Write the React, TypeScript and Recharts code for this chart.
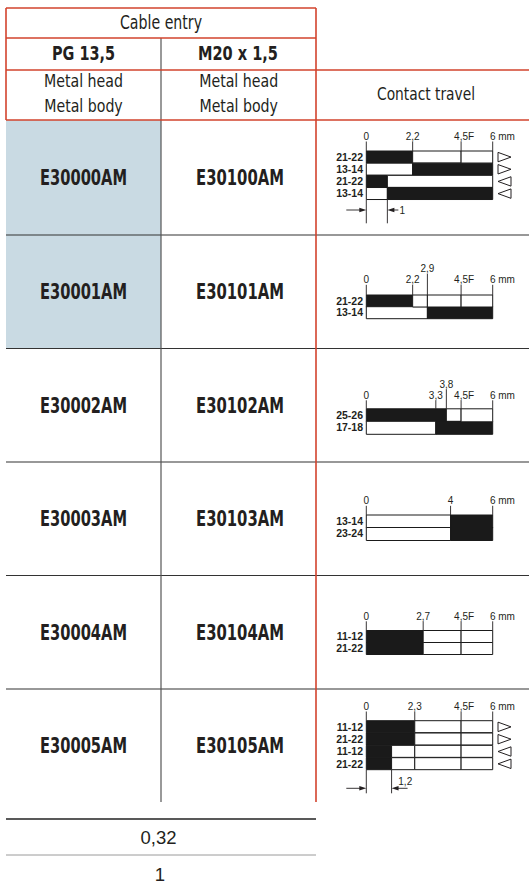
import React from "react";
import { BarChart, Bar, XAxis, YAxis, Cell } from "recharts";

// ---------- table data ----------
const pgCodes = ["E30000AM", "E30001AM", "E30002AM", "E30003AM", "E30004AM", "E30005AM"];
const m20Codes = ["E30100AM", "E30101AM", "E30102AM", "E30103AM", "E30104AM", "E30105AM"];
const highlightedRows = [true, true, false, false, false, false];
const footerValues = ["0,32", "1"];

// ---------- contact travel diagrams (segments: [end mm, closed 1 / open 0]) ----------
const d1Contacts = ["21-22", "13-14", "21-22", "13-14"];
const d1Segments = [
  [[2.2, 1], [4.5, 0], [6, 0]],
  [[2.2, 0], [6, 1]],
  [[1, 1], [6, 0]],
  [[1, 0], [6, 1]],
];
const d1Arrows = ["r", "r", "l", "l"];
const d1Ticks = [0, 2.2, 4.5, 6];
const d1TickLabels = ["0", "2,2", "4,5F", "6 mm"];
const d1TickTiers = [0, 0, 0, 0];
const d1Dimension = [0, 1];
const d1DimensionLabel = "1";

const d2Contacts = ["21-22", "13-14"];
const d2Segments = [
  [[2.2, 1], [2.9, 0], [4.5, 0], [6, 0]],
  [[2.9, 0], [6, 1]],
];
const d2Arrows = ["", ""];
const d2Ticks = [0, 2.2, 2.9, 4.5, 6];
const d2TickLabels = ["0", "2,2", "2,9", "4,5F", "6 mm"];
const d2TickTiers = [0, 0, 1, 0, 0];

const d3Contacts = ["25-26", "17-18"];
const d3Segments = [
  [[3.8, 1], [4.5, 0], [6, 0]],
  [[3.3, 0], [6, 1]],
];
const d3Arrows = ["", ""];
const d3Ticks = [0, 3.3, 3.8, 4.5, 6];
const d3TickLabels = ["0", "3,3", "3,8", "4,5F", "6 mm"];
const d3TickTiers = [0, 0, 1, 0, 0];

const d4Contacts = ["13-14", "23-24"];
const d4Segments = [
  [[4, 0], [6, 1]],
  [[4, 0], [6, 1]],
];
const d4Arrows = ["", ""];
const d4Ticks = [0, 4, 6];
const d4TickLabels = ["0", "4", "6 mm"];
const d4TickTiers = [0, 0, 0];

const d5Contacts = ["11-12", "21-22"];
const d5Segments = [
  [[2.7, 1], [4.5, 0], [6, 0]],
  [[2.7, 1], [4.5, 0], [6, 0]],
];
const d5Arrows = ["", ""];
const d5Ticks = [0, 2.7, 4.5, 6];
const d5TickLabels = ["0", "2,7", "4,5F", "6 mm"];
const d5TickTiers = [0, 0, 0, 0];

const d6Contacts = ["11-12", "21-22", "11-12", "21-22"];
const d6Segments = [
  [[2.3, 1], [4.5, 0], [6, 0]],
  [[2.3, 1], [4.5, 0], [6, 0]],
  [[1.2, 1], [2.3, 0], [4.5, 0], [6, 0]],
  [[1.2, 1], [2.3, 0], [4.5, 0], [6, 0]],
];
const d6Arrows = ["r", "r", "l", "l"];
const d6Ticks = [0, 2.3, 4.5, 6];
const d6TickLabels = ["0", "2,3", "4,5F", "6 mm"];
const d6TickTiers = [0, 0, 0, 0];
const d6Dimension = [0, 1.2];
const d6DimensionLabel = "1,2";

// ---------- layout (page coordinates) ----------
const RED = "#d2432d";
const INK = "#231f20";
const BLUE = "#c9dae3";
const NARROW = "'Liberation Sans Narrow', 'DejaVu Sans Condensed', 'Arial Narrow', sans-serif";
const SANS = "'Liberation Sans', Arial, sans-serif";
const rowEdges = [120, 235, 348.5, 462, 575.5, 689, 802];
const CHART_LEFT = 316;
const CHART_W = 213;
const PLOT_LEFT_L = 50.3; // local
const PLOT_RIGHT_L = 176.7; // local

type Layout = {
  plotTop: number;
  plotBottom: number;
  labelBase: number;
  dimY?: number;
  dimBottom?: number;
  dimLabelY?: number;
  dimLabelDx?: number;
  dimTail?: number;
};

const layouts: Layout[] = [
  { plotTop: 151, plotBottom: 199.7, labelBase: 140, dimY: 210, dimBottom: 223.3, dimLabelY: 214, dimLabelDx: 15, dimTail: 11 },
  { plotTop: 295, plotBottom: 318.4, labelBase: 283.3 },
  { plotTop: 408.3, plotBottom: 433.3, labelBase: 398.3 },
  { plotTop: 515, plotBottom: 540, labelBase: 504.3 },
  { plotTop: 630, plotBottom: 654, labelBase: 619.3 },
  { plotTop: 720.7, plotBottom: 770, labelBase: 710, dimY: 788.3, dimBottom: 793.3, dimLabelY: 784.5, dimLabelDx: 13.7, dimTail: 16 },
];

type DiagramProps = {
  index: number;
  contacts: string[];
  segments: number[][][];
  arrows: string[];
  ticks: number[];
  tickLabels: string[];
  tickTiers: number[];
  dimension?: number[];
  dimensionLabel?: string;
};

function findIdx(arr: number[] | undefined, v: number) {
  if (!arr) return -1;
  return arr.findIndex((a) => Math.abs(a - v) < 1e-6);
}

function TravelDiagram(p: DiagramProps) {
  const lay = layouts[p.index];
  const top = rowEdges[p.index];
  const height = Math.round(rowEdges[p.index + 1] - rowEdges[p.index]);
  const plotTopL = lay.plotTop - top;
  const plotBottomL = lay.plotBottom - top;
  const baseL = lay.labelBase - top;
  const marginBottom = height - plotBottomL;

  const allTicks = [...p.ticks];
  (p.dimension || []).forEach((v) => {
    if (findIdx(allTicks, v) < 0) allTicks.push(v);
  });
  allTicks.sort((a, b) => a - b);

  const data = p.segments.map((segs, i) => {
    const o: Record<string, any> = { id: "row" + i, label: p.contacts[i] };
    let prev = 0;
    for (let k = 0; k < 4; k++) {
      const s = segs[k];
      if (s) {
        o["s" + k] = s[0] - prev;
        o["f" + k] = s[1];
        prev = s[0];
      } else {
        o["s" + k] = 0;
        o["f" + k] = 0;
      }
    }
    return o;
  });

  const renderDim = (x: number, di: number) => {
    const yl = (lay.dimY as number) - top;
    const yb = (lay.dimBottom as number) - top;
    const ly = (lay.dimLabelY as number) - top;
    return (
      <g>
        <line x1={x} x2={x} y1={plotBottomL} y2={yb} stroke={INK} strokeWidth={0.9} />
        {di === 0 ? (
          <g>
            <line x1={x - 20} x2={x - 5} y1={yl} y2={yl} stroke={INK} strokeWidth={0.9} />
            <polygon points={`${x},${yl} ${x - 7},${yl - 2.2} ${x - 7},${yl + 2.2}`} fill={INK} />
          </g>
        ) : (
          <g>
            <line x1={x + 5} x2={x + (lay.dimTail as number)} y1={yl} y2={yl} stroke={INK} strokeWidth={0.9} />
            <polygon points={`${x},${yl} ${x + 7},${yl - 2.2} ${x + 7},${yl + 2.2}`} fill={INK} />
            <text x={x + (lay.dimLabelDx as number)} y={ly} textAnchor="middle" fontSize={10} fontFamily={SANS} fill={INK}>
              {p.dimensionLabel}
            </text>
          </g>
        )}
      </g>
    );
  };

  const topTick = (props: any) => {
    const { x, payload } = props;
    const v = Number(payload.value);
    const i = findIdx(p.ticks, v);
    const di = findIdx(p.dimension, v);
    let labelPart = null;
    if (i >= 0) {
      const label = p.tickLabels[i];
      const by = baseL - p.tickTiers[i] * 11;
      let anchor: "middle" | "start" = "middle";
      let tx = x;
      if (label.endsWith(" mm")) {
        anchor = "start";
        tx = x - 2.8;
      } else if (label.endsWith("F")) {
        tx = x + 3;
      }
      labelPart = (
        <g>
          <line x1={x} x2={x} y1={by + 1.5} y2={plotTopL} stroke={INK} strokeWidth={0.9} />
          <text x={tx} y={by} textAnchor={anchor} fontSize={10} fontFamily={SANS} fill={INK}>
            {label}
          </text>
        </g>
      );
    }
    return (
      <g>
        {labelPart}
        {di >= 0 ? renderDim(x, di) : null}
      </g>
    );
  };

  const rowTick = (props: any) => {
    const { y, payload } = props;
    const i = data.findIndex((d) => d.id === payload.value);
    if (i < 0) return <g />;
    const dir = p.arrows[i];
    const x0 = 182;
    const x1 = 195;
    const h = 4.7;
    let tri = null;
    if (dir === "r") tri = <polygon points={`${x0},${y - h} ${x1},${y} ${x0},${y + h}`} fill="none" stroke={INK} strokeWidth={1} />;
    if (dir === "l") tri = <polygon points={`${x1},${y - h} ${x0},${y} ${x1},${y + h}`} fill="none" stroke={INK} strokeWidth={1} />;
    return (
      <g>
        <text x={47} y={y + 3.7} textAnchor="end" fontSize={10.5} fontWeight="bold" fontFamily={SANS} fill={INK}>
          {data[i].label}
        </text>
        {tri}
      </g>
    );
  };

  return (
    <div style={{ position: "absolute", left: CHART_LEFT, top, width: CHART_W, height }}>
      <BarChart
        width={CHART_W}
        height={height}
        data={data}
        layout="vertical"
        barCategoryGap={0}
        barGap={0}
        margin={{ top: 0, right: CHART_W - PLOT_RIGHT_L, bottom: marginBottom, left: PLOT_LEFT_L - 46 }}
        style={{ overflow: "visible" }}
      >
        <XAxis
          xAxisId="top"
          orientation="top"
          type="number"
          domain={[0, 6]}
          ticks={allTicks}
          interval={0}
          height={plotTopL}
          axisLine={false}
          tickLine={false}
          tick={topTick}
        />
        <YAxis
          yAxisId="rows"
          type="category"
          dataKey="id"
          width={46}
          axisLine={false}
          tickLine={false}
          tickSize={0}
          interval={0}
          tick={rowTick}
        />
        {[0, 1, 2, 3].map((k) => (
          <Bar
            key={k}
            dataKey={"s" + k}
            stackId="a"
            xAxisId="top"
            yAxisId="rows"
            isAnimationActive={false}
            stroke="#1a1a1a"
            strokeWidth={1}
          >
            {data.map((d, i) => (
              <Cell key={i} fill={d["f" + k] ? "#1a1a1a" : "#ffffff"} />
            ))}
          </Bar>
        ))}
      </BarChart>
    </div>
  );
}

function Frame() {
  const centers = rowEdges.slice(0, 6).map((t, i) => (t + rowEdges[i + 1]) / 2);
  return (
    <svg width={529} height={888} style={{ position: "absolute", left: 0, top: 0 }}>
      {highlightedRows.map((h, i) =>
        h ? <rect key={i} x={6} y={rowEdges[i]} width={155} height={rowEdges[i + 1] - rowEdges[i]} fill={BLUE} /> : null
      )}
      {rowEdges.slice(1, 6).map((y, i) => (
        <line key={i} x1={6} x2={529} y1={y} y2={y} stroke="#333" strokeWidth={1.2} />
      ))}
      <line x1={161} x2={161} y1={38} y2={802} stroke="#555" strokeWidth={1.2} />
      {/* red frame */}
      <line x1={6} x2={316} y1={8} y2={8} stroke={RED} strokeWidth={1.6} />
      <line x1={6} x2={6} y1={8} y2={120} stroke={RED} strokeWidth={1.6} />
      <line x1={6} x2={316} y1={38} y2={38} stroke={RED} strokeWidth={1.6} />
      <line x1={6} x2={529} y1={70} y2={70} stroke={RED} strokeWidth={1.6} />
      <line x1={6} x2={529} y1={120} y2={120} stroke={RED} strokeWidth={1.6} />
      <line x1={316} x2={316} y1={8} y2={802} stroke={RED} strokeWidth={1.6} />

      <g fill={INK} fontFamily={NARROW} textAnchor="middle">
        <text x={161} y={29.3} fontSize={19} textLength={82} lengthAdjust="spacingAndGlyphs">Cable entry</text>
        <text x={83.5} y={60} fontSize={20} fontWeight="bold" textLength={63} lengthAdjust="spacingAndGlyphs">PG 13,5</text>
        <text x={238} y={60} fontSize={20} fontWeight="bold" textLength={80} lengthAdjust="spacingAndGlyphs">M20 x 1,5</text>
        <text x={83.5} y={87.3} fontSize={17} textLength={79} lengthAdjust="spacingAndGlyphs">Metal head</text>
        <text x={83.5} y={111.7} fontSize={17} textLength={78.5} lengthAdjust="spacingAndGlyphs">Metal body</text>
        <text x={238.7} y={87.3} fontSize={17} textLength={79} lengthAdjust="spacingAndGlyphs">Metal head</text>
        <text x={238.7} y={111.7} fontSize={17} textLength={78.5} lengthAdjust="spacingAndGlyphs">Metal body</text>
        <text x={426} y={100} fontSize={18} textLength={98} lengthAdjust="spacingAndGlyphs">Contact travel</text>
        {pgCodes.map((c, i) => (
          <text key={"p" + i} x={83.5} y={centers[i] + 7.5} fontSize={21} fontWeight="bold" textLength={87} lengthAdjust="spacingAndGlyphs">
            {c}
          </text>
        ))}
        {m20Codes.map((c, i) => (
          <text key={"m" + i} x={240} y={centers[i] + 7.5} fontSize={21} fontWeight="bold" textLength={88} lengthAdjust="spacingAndGlyphs">
            {c}
          </text>
        ))}
      </g>

      <line x1={6} x2={316} y1={819} y2={819} stroke="#222" strokeWidth={1.6} />
      <line x1={6} x2={316} y1={855} y2={855} stroke="#9a9a9a" strokeWidth={1} />
      <g fill={INK} fontFamily={SANS} textAnchor="middle" fontSize={18.5}>
        <text x={158.5} y={844}>{footerValues[0]}</text>
        <text x={160} y={881}>{footerValues[1]}</text>
      </g>
    </svg>
  );
}

export default function App() {
  return (
    <div style={{ position: "absolute", left: 0, top: 0, width: 529, height: 888, background: "#fff" }}>
      <Frame />
      <TravelDiagram index={0} contacts={d1Contacts} segments={d1Segments} arrows={d1Arrows} ticks={d1Ticks} tickLabels={d1TickLabels} tickTiers={d1TickTiers} dimension={d1Dimension} dimensionLabel={d1DimensionLabel} />
      <TravelDiagram index={1} contacts={d2Contacts} segments={d2Segments} arrows={d2Arrows} ticks={d2Ticks} tickLabels={d2TickLabels} tickTiers={d2TickTiers} />
      <TravelDiagram index={2} contacts={d3Contacts} segments={d3Segments} arrows={d3Arrows} ticks={d3Ticks} tickLabels={d3TickLabels} tickTiers={d3TickTiers} />
      <TravelDiagram index={3} contacts={d4Contacts} segments={d4Segments} arrows={d4Arrows} ticks={d4Ticks} tickLabels={d4TickLabels} tickTiers={d4TickTiers} />
      <TravelDiagram index={4} contacts={d5Contacts} segments={d5Segments} arrows={d5Arrows} ticks={d5Ticks} tickLabels={d5TickLabels} tickTiers={d5TickTiers} />
      <TravelDiagram index={5} contacts={d6Contacts} segments={d6Segments} arrows={d6Arrows} ticks={d6Ticks} tickLabels={d6TickLabels} tickTiers={d6TickTiers} dimension={d6Dimension} dimensionLabel={d6DimensionLabel} />
    </div>
  );
}
